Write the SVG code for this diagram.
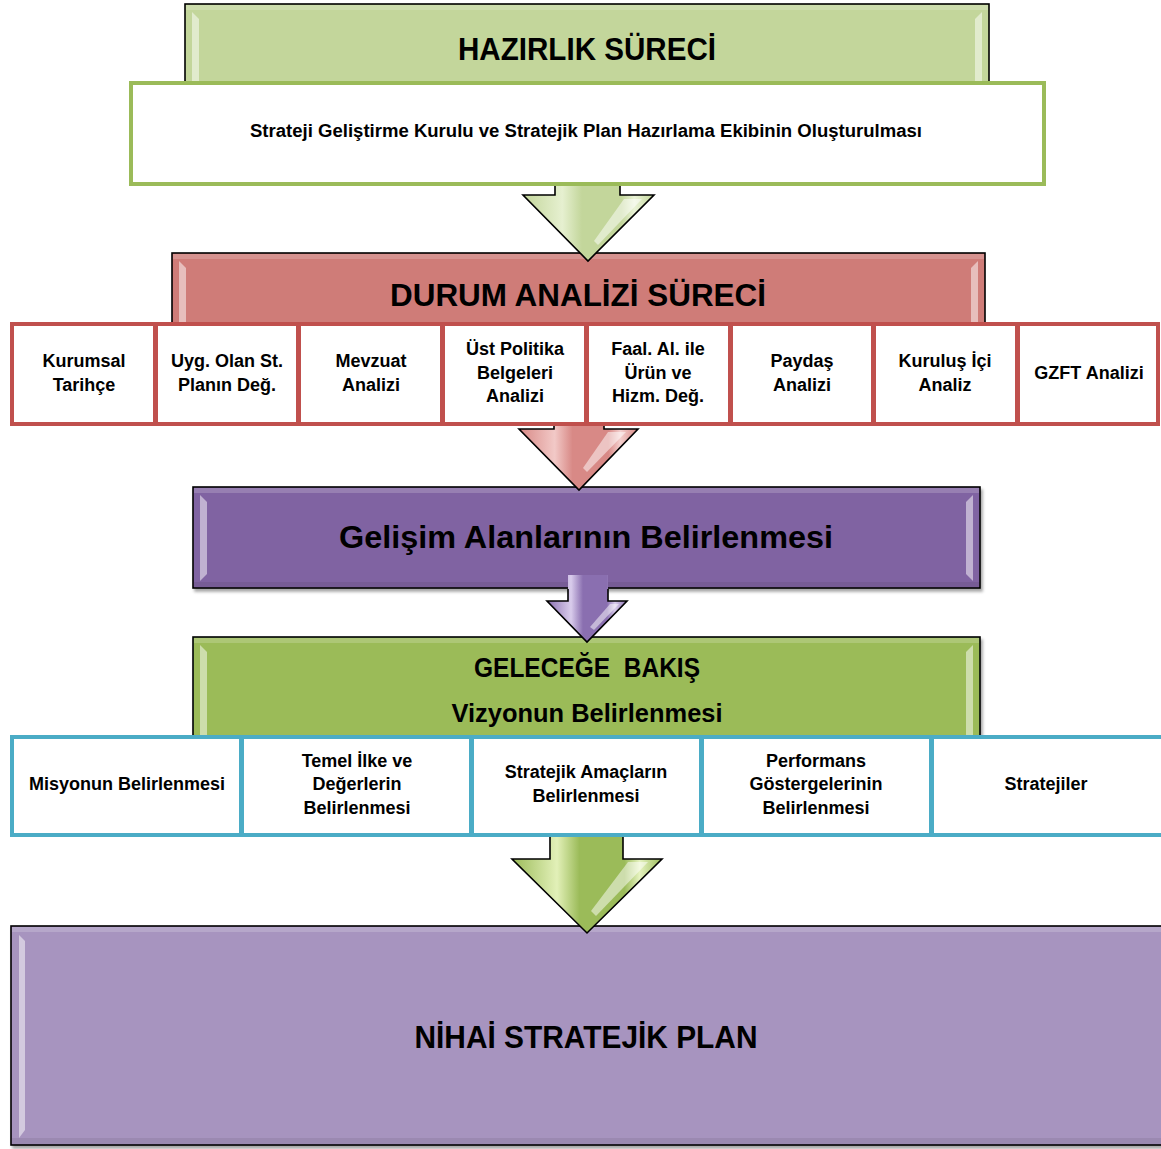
<svg xmlns="http://www.w3.org/2000/svg" width="1161" height="1149" viewBox="0 0 1161 1149">
<defs>
<style>
text{font-family:"Liberation Sans",Arial,sans-serif;font-weight:bold;fill:#000;text-anchor:middle}
.t{font-size:18px}
.hdr{stroke:#000;stroke-width:1.6}
.lt{fill:#fff;opacity:.5}
.tp{fill:#fff;opacity:.18}
.dk{fill:#000;opacity:.07}
.red{fill:#fff;stroke:#c0504d;stroke-width:4}
.blu{fill:#fff;stroke:#4bacc6;stroke-width:4}
.edge{fill:none;stroke:#000;stroke-width:1.6;stroke-linejoin:miter}
</style>
<filter id="sh" x="-5%" y="-5%" width="110%" height="120%">
<feDropShadow dx="2" dy="3" stdDeviation="1.5" flood-color="#000" flood-opacity="0.35"/>
</filter>
<linearGradient id="gA1" x1="0" y1="0" x2="1" y2="0">
<stop offset="0" stop-color="#c3d69b"/><stop offset="0.3" stop-color="#e6f0d0"/><stop offset="0.45" stop-color="#c3d69b"/><stop offset="0.75" stop-color="#c3d69b"/><stop offset="0.85" stop-color="#eaf3d6"/><stop offset="1" stop-color="#c3d69b"/>
</linearGradient>
<linearGradient id="gA2" x1="0" y1="0" x2="1" y2="0">
<stop offset="0" stop-color="#d88986"/><stop offset="0.3" stop-color="#f2c9c7"/><stop offset="0.45" stop-color="#d88986"/><stop offset="0.75" stop-color="#d88986"/><stop offset="0.85" stop-color="#f4d0ce"/><stop offset="1" stop-color="#d88986"/>
</linearGradient>
<linearGradient id="gA3" x1="0" y1="0" x2="1" y2="0">
<stop offset="0" stop-color="#8a6fb0"/><stop offset="0.3" stop-color="#d9ccec"/><stop offset="0.45" stop-color="#8a6fb0"/><stop offset="0.75" stop-color="#8a6fb0"/><stop offset="0.85" stop-color="#d9ccec"/><stop offset="1" stop-color="#8a6fb0"/>
</linearGradient>
<linearGradient id="gA4" x1="0" y1="0" x2="1" y2="0">
<stop offset="0" stop-color="#9bbb59"/><stop offset="0.3" stop-color="#e2f0b8"/><stop offset="0.45" stop-color="#9bbb59"/><stop offset="0.75" stop-color="#9bbb59"/><stop offset="0.85" stop-color="#e6f3c0"/><stop offset="1" stop-color="#9bbb59"/>
</linearGradient>
</defs>

<!-- NİHAİ -->
<g id="nihai">
<rect x="11" y="926" width="1170" height="219" fill="#a794bf" class="hdr" filter="url(#sh)"/>
<polygon class="lt" points="19,935 25,941 25,1130 19,1138" opacity=".75"/>
<polygon class="tp" points="12,927 1181,927 1181,932 12,932"/>
<polygon class="dk" points="12,1144 12,1138 1181,1138 1181,1144"/>
<text x="586" y="1048" font-size="32" textLength="343" lengthAdjust="spacingAndGlyphs">NİHAİ STRATEJİK PLAN</text>
</g>

<!-- GELECEĞE BAKIŞ -->
<g id="gelecege">
<rect x="193" y="637" width="787" height="112" fill="#9bbb59" class="hdr" filter="url(#sh)"/>
<polygon class="lt" points="200,645 207,652 207,747 200,747" opacity=".7"/>
<polygon class="lt" points="973,645 966,652 966,747 973,747" opacity=".35"/>
<polygon class="tp" points="194,638 979,638 979,643 194,643"/>
<text x="587" y="677" font-size="27" textLength="226" lengthAdjust="spacingAndGlyphs" style="white-space:pre">GELECEĞE  BAKIŞ</text>
<text x="587" y="722" font-size="26" textLength="271" lengthAdjust="spacingAndGlyphs">Vizyonun Belirlenmesi</text>
</g>

<!-- Gelişim -->
<g id="gelisim">
<rect x="193" y="487" width="787" height="101" fill="#8064a2" class="hdr" filter="url(#sh)"/>
<polygon class="lt" points="200,495 207,502 207,574 200,581" opacity=".7"/>
<polygon class="lt" points="973,495 966,502 966,574 973,581" opacity=".35"/>
<polygon class="tp" points="194,488 979,488 979,493 194,493"/>
<polygon class="dk" points="194,587 194,582 979,582 979,587"/>
<text x="586" y="548" font-size="32" textLength="494" lengthAdjust="spacingAndGlyphs">Gelişim Alanlarının Belirlenmesi</text>
</g>

<!-- DURUM header -->
<g id="durum">
<rect x="172" y="253" width="813" height="100" fill="#cf7c78" class="hdr"/>
<polygon class="lt" points="179,261 186,268 186,351 179,351" opacity=".7"/>
<polygon class="lt" points="978,261 971,268 971,351 978,351" opacity=".45"/>
<polygon class="tp" points="173,254 984,254 984,259 173,259"/>
<text x="578" y="306" font-size="32" textLength="376" lengthAdjust="spacingAndGlyphs">DURUM ANALİZİ SÜRECİ</text>
</g>

<!-- HAZIRLIK header -->
<g id="hazirlik">
<rect x="185" y="4" width="804" height="100" fill="#c3d69b" class="hdr"/>
<polygon class="lt" points="192,12 199,19 199,102 192,102" opacity=".8"/>
<polygon class="lt" points="982,12 975,19 975,102 982,102" opacity=".5"/>
<polygon class="tp" points="186,5 988,5 988,10 186,10"/>
<text x="587" y="60" font-size="31" textLength="258" lengthAdjust="spacingAndGlyphs">HAZIRLIK SÜRECİ</text>
</g>

<!-- connectors (block arrows) -->
<g id="connectors">
<g id="arrow1">
<polygon fill="url(#gA1)" points="555,180 555,195 523,195 588,261 654,195 620,195 620,180"/>
<polygon class="lt" points="624,199 642,199 598,245 594,241" opacity=".45"/>
<polyline class="edge" points="555,180 555,195 523,195 588,261 654,195 620,195 620,180"/>
</g>
<g id="arrow2">
<polygon fill="url(#gA2)" points="554,420 554,429 519,429 579,490 638,429 604,429 604,420"/>
<polygon class="lt" points="608,432 626,432 587,472 583,468" opacity=".45"/>
<polyline class="edge" points="554,420 554,429 519,429 579,490 638,429 604,429 604,420"/>
</g>
<g id="arrow3">
<polygon fill="url(#gA3)" points="568,575 568,601 547,601 587,642 627,601 608,601 608,575"/>
<polygon class="lt" points="610,604 619,604 594,630 590,627" opacity=".45"/>
<polyline class="edge" points="568,589 568,601 547,601 587,642 627,601 608,601 608,589"/>
</g>
<g id="arrow4">
<polygon fill="url(#gA4)" points="550,834 550,859 512,859 587,933 662,859 623,859 623,834"/>
<polygon class="lt" points="628,862 648,862 596,916 591,911" opacity=".45"/>
<polyline class="edge" points="550,834 550,859 512,859 587,933 662,859 623,859 623,834"/>
</g>
</g>

<!-- white box under HAZIRLIK -->
<g id="kurul">
<rect x="131" y="83" width="913" height="101" fill="#fff" stroke="#9bbb59" stroke-width="4"/>
<text x="586" y="137" font-size="18" textLength="672" lengthAdjust="spacingAndGlyphs">Strateji Geliştirme Kurulu ve Stratejik Plan Hazırlama Ekibinin Oluşturulması</text>
</g>

<!-- Durum analizi cells -->
<g id="d1"><rect class="red" x="12" y="324" width="143" height="100"/><text class="t" x="84" y="367">Kurumsal</text><text class="t" x="84" y="391">Tarihçe</text></g>
<g id="d2"><rect class="red" x="156" y="324" width="142" height="100"/><text class="t" x="227" y="367">Uyg. Olan St.</text><text class="t" x="227" y="391">Planın Değ.</text></g>
<g id="d3"><rect class="red" x="299" y="324" width="143" height="100"/><text class="t" x="371" y="367">Mevzuat</text><text class="t" x="371" y="391">Analizi</text></g>
<g id="d4"><rect class="red" x="443" y="324" width="143" height="100"/><text class="t" x="515" y="355">Üst Politika</text><text class="t" x="515" y="379">Belgeleri</text><text class="t" x="515" y="402">Analizi</text></g>
<g id="d5"><rect class="red" x="587" y="324" width="143" height="100"/><text class="t" x="658" y="355">Faal. Al. ile</text><text class="t" x="658" y="379">Ürün ve</text><text class="t" x="658" y="402">Hizm. Değ.</text></g>
<g id="d6"><rect class="red" x="731" y="324" width="142" height="100"/><text class="t" x="802" y="367">Paydaş</text><text class="t" x="802" y="391">Analizi</text></g>
<g id="d7"><rect class="red" x="874" y="324" width="143" height="100"/><text class="t" x="945" y="367">Kuruluş İçi</text><text class="t" x="945" y="391">Analiz</text></g>
<g id="d8"><rect class="red" x="1018" y="324" width="140" height="100"/><text class="t" x="1089" y="379">GZFT Analizi</text></g>

<!-- Geleceğe bakış cells -->
<g id="g1"><rect class="blu" x="12" y="737" width="229" height="98"/><text class="t" x="127" y="790">Misyonun Belirlenmesi</text></g>
<g id="g2"><rect class="blu" x="242" y="737" width="229" height="98"/><text class="t" x="357" y="767">Temel İlke ve</text><text class="t" x="357" y="790">Değerlerin</text><text class="t" x="357" y="814">Belirlenmesi</text></g>
<g id="g3"><rect class="blu" x="472" y="737" width="229" height="98"/><text class="t" x="586" y="778">Stratejik Amaçların</text><text class="t" x="586" y="802">Belirlenmesi</text></g>
<g id="g4"><rect class="blu" x="702" y="737" width="229" height="98"/><text class="t" x="816" y="767">Performans</text><text class="t" x="816" y="790">Göstergelerinin</text><text class="t" x="816" y="814">Belirlenmesi</text></g>
<g id="g5"><rect class="blu" x="932" y="737" width="240" height="98"/><text class="t" x="1046" y="790">Stratejiler</text></g>
</svg>
